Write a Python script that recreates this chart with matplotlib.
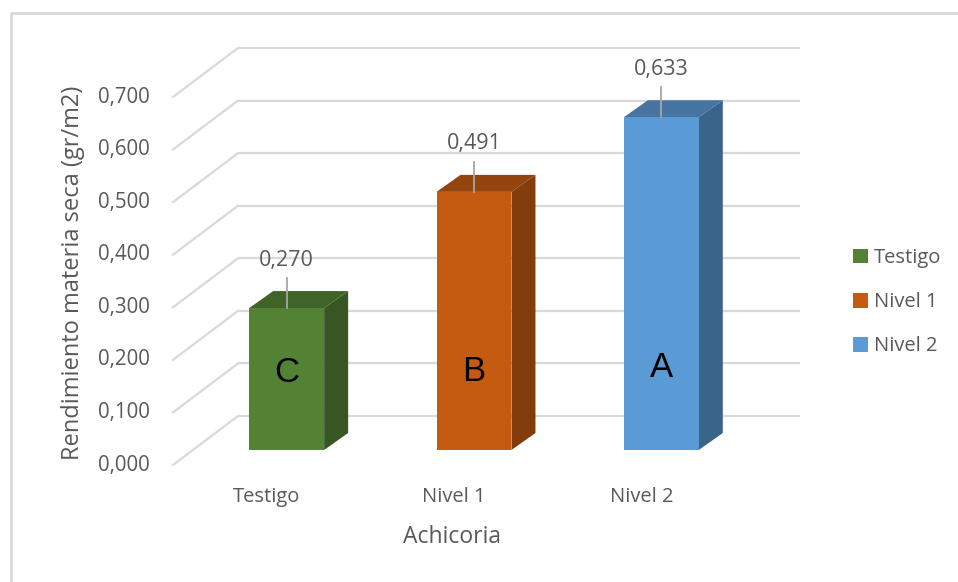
import matplotlib
matplotlib.use("Agg")
import matplotlib.pyplot as plt
from matplotlib.patches import Polygon, Patch
from matplotlib.lines import Line2D

plt.rcParams['font.family'] = ['Open Sans', 'DejaVu Sans']

# data
categories = ["Testigo", "Nivel 1", "Nivel 2"]
values = [0.270, 0.491, 0.633]
letters = ["C", "B", "A"]
letter_y = [0.175, 0.177, 0.186]
yticks = [0.0, 0.1, 0.2, 0.3, 0.4, 0.5, 0.6, 0.7]

front_colors = ["#548235", "#c55a11", "#5b9bd5"]
top_colors = ["#3f6428", "#96440d", "#4675a2"]
side_colors = ["#375623", "#833c0b", "#3a6489"]
text_col = "#595959"
grid_col = "#d9d9d9"

W, H = 958, 582
fig = plt.figure(figsize=(W / 100, H / 100), dpi=100)

# front plane of the 3D box, in pixels
left, right, bottom, top = 173, 735, 465, 97
ax = fig.add_axes([left / W, (H - bottom) / H, (right - left) / W, (bottom - top) / H])
ax.set_xlim(-0.5, 2.5)
ax.set_ylim(0, 0.7)
ax.axis("off")

# pixel -> data unit helpers
px_x = 3.0 / (right - left)
px_y = 0.7 / (bottom - top)

# depth of the back wall and of the bars
wall_dx, wall_dy = 65 * px_x, 49 * px_y
face_dx, face_dy = 20 * px_x, 15 * px_y
bar_dx, bar_dy = 24 * px_x, 17 * px_y
bar_w = 0.40

# back wall gridlines and floor-side diagonals
for t in yticks:
    ax.plot([-0.5 + wall_dx, 2.5 + wall_dx], [t + wall_dy, t + wall_dy],
            color=grid_col, lw=1.6, zorder=1, clip_on=False, solid_capstyle="butt")
    ax.plot([-0.5, -0.5 + wall_dx], [t, t + wall_dy],
            color=grid_col, lw=1.6, zorder=1, clip_on=False)
    ax.text(-0.5 - 23 * px_x, t, f"{t:.3f}".replace(".", ","), ha="right", va="center",
            fontsize=14.8, color=text_col)

# columns
for i, v in enumerate(values):
    x0 = i - bar_w / 2 + face_dx
    x1 = i + bar_w / 2 + face_dx
    y0 = face_dy
    y1 = face_dy + v
    front = Polygon([(x0, y0), (x1, y0), (x1, y1), (x0, y1)], closed=True,
                    fc=front_colors[i], ec="none", zorder=3, clip_on=False)
    topf = Polygon([(x0, y1), (x1, y1), (x1 + bar_dx, y1 + bar_dy), (x0 + bar_dx, y1 + bar_dy)],
                   closed=True, fc=top_colors[i], ec="none", zorder=3, clip_on=False)
    side = Polygon([(x1, y0), (x1 + bar_dx, y0 + bar_dy), (x1 + bar_dx, y1 + bar_dy), (x1, y1)],
                   closed=True, fc=side_colors[i], ec="none", zorder=3, clip_on=False)
    for p in (side, topf, front):
        ax.add_patch(p)

    xc = i + face_dx
    # leader line and value label
    ax.plot([xc, xc], [y1, y1 + 30 * px_y], color="#a6a6a6", lw=1.3, zorder=4, clip_on=False)
    ax.text(xc, y1 + 48 * px_y, f"{v:.3f}".replace(".", ","), ha="center", va="center",
            fontsize=15.5, color=text_col, zorder=5)
    # significance letter
    ax.text(xc, letter_y[i], letters[i], ha="center", va="center",
            fontsize=25, color="black", family="Liberation Sans", zorder=5)

    # category label
    ax.text(i, -32 * px_y, categories[i], ha="center", va="center",
            fontsize=14.5, color=text_col)

# axis titles
fig.text(73 / W, 1 - 273 / H, "Rendimiento materia seca (gr/m2)", rotation=90,
         ha="center", va="center", fontsize=17, color=text_col)
fig.text(452 / W, 1 - 537 / H, "Achicoria", ha="center", va="center",
         fontsize=16.5, color=text_col)

# legend
handles = [Patch(fc=c, ec="none") for c in front_colors]
fig.legend(handles, categories, loc="upper left", bbox_to_anchor=(853 / W, 1 - 248 / H),
           frameon=False, fontsize=14.5, handlelength=0.75, handleheight=0.75,
           handletextpad=0.3, labelspacing=1.2, labelcolor=text_col, borderpad=0,
           borderaxespad=0)

# chart area border (left and top)
fig.add_artist(Line2D([10.5 / W, 10.5 / W, 1], [0, 1 - 13 / H, 1 - 13 / H],
                      transform=fig.transFigure, color=grid_col, lw=2))

fig.savefig("out.png", dpi=100, facecolor="white")
